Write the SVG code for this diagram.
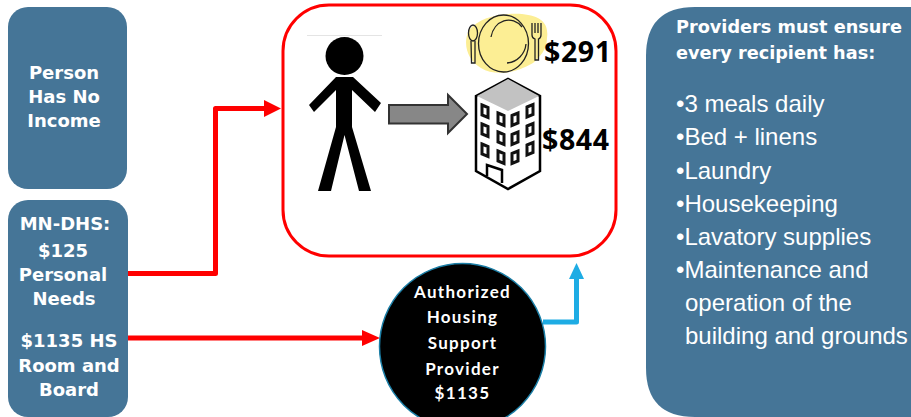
<svg xmlns="http://www.w3.org/2000/svg" width="911" height="417" viewBox="0 0 911 417">
<style>
.box{fill:#457597}
.t{font-family:"DejaVu Sans",Verdana,sans-serif;font-weight:bold;font-size:18px;fill:#fff;text-anchor:middle}
.c{font-family:"Lato","Noto Sans",sans-serif;font-weight:bold;font-size:17px;fill:#fff;text-anchor:middle;letter-spacing:1.300px}
.p{font-family:"Liberation Sans",Arial,sans-serif;font-size:24px;fill:#fff}
.h{font-family:"DejaVu Sans",Verdana,sans-serif;font-weight:bold;font-size:17.700px;fill:#fff}
.m{font-family:"Noto Sans","Open Sans",sans-serif;font-weight:bold;font-size:28.500px;letter-spacing:.6px;fill:#000}
.red{fill:none;stroke:#f00;stroke-width:5;stroke-linejoin:round}
.win{fill:#fff;stroke:#111;stroke-width:3}
.ink{fill:none;stroke:#222;stroke-width:1.300}
</style>
<g id="node-no-income"><rect class="box" x="8" y="7" width="119" height="182" rx="20"/>
<text class="t" x="64" y="79">Person</text><text class="t" x="64" y="103">Has No</text><text class="t" x="64" y="127">Income</text></g>
<g id="node-mn-dhs"><rect class="box" x="8" y="200" width="120" height="217" rx="20"/>
<text class="t" x="65" y="230">MN-DHS:</text><text class="t" x="63" y="257">$125</text><text class="t" x="63" y="281">Personal</text><text class="t" x="64" y="305">Needs</text><text class="t" x="69" y="347">$1135 HS</text><text class="t" x="69" y="372">Room and</text><text class="t" x="69" y="396">Board</text></g>
<g id="connectors">
<path class="red" d="M128 273.500H215.500V108.500H265"/>
<path d="M264 100L281 108.500L264 117Z" fill="#f00"/>
<path class="red" d="M128 338H365"/>
<path d="M362 330L380 338L362 346Z" fill="#f00"/>
<path d="M543 322H576.500V276" fill="none" stroke="#1eace4" stroke-width="5" stroke-linejoin="round"/>
<path d="M569 279L576.500 263L584 279Z" fill="#1eace4"/>
</g>
<g id="node-residence"><rect x="283" y="5" width="333" height="251" rx="46" fill="#fff" stroke="#f00" stroke-width="3"/>
<g id="person"><path d="M307 35.500H382" stroke="#e4e4e4" stroke-width="1"/><circle cx="344.500" cy="56" r="19" fill="#000"/>
<path d="M336 77H353L381 103L375 112L352 90V127L371 191H359L344.500 135L331 191H318L336 127V90L314 112L309 105Z" fill="#000"/></g>
<path id="move-arrow" d="M389 105H448V95L467 114L448 133V123.500H389Z" fill="#878787" stroke="#333" stroke-width="2"/>
<g id="meal"><path d="M469 30C480 17 500 13 522 14C542 16 549 24 547 38C547 49 540 57 533 63C515 74 494 76 481 68C468 61 462 44 469 30Z" fill="#fcee94"/>
<ellipse cx="503.500" cy="43.500" rx="25" ry="28.500" class="ink"/>
<path d="M491 37A18 21 0 0 1 522 27M526 44A21 21 0 0 1 507 63" class="ink"/>
<ellipse cx="473" cy="33" rx="4.500" ry="8" class="ink"/><path d="M471 41L471.500 63H475L475 41" class="ink"/>
<path d="M532 23V35Q532 38 535 39V60H538.500V39Q541 38 541 35V23M535 23V33M538 23V33" class="ink"/></g>
<g id="building"><path d="M476 96L508 79L540 96V171L508 189L476 171Z" fill="#fff" stroke="#000" stroke-width="2.500"/><path d="M477 96L508 79L539 96L508 111Z" fill="#c2c2c2"/>
<path class="win" d="M482 105l6 2.500v10l-6-2.500zM498 113l6 2.500v10l-6-2.500zM512 115.500l6-2.500v10l-6 2.500zM527 107l6-2.500v10l-6 2.500z"/>
<path class="win" d="M482 124l6 2.500v10l-6-2.500zM498 132l6 2.500v10l-6-2.500zM512 134.500l6-2.500v10l-6 2.500zM527 126l6-2.500v10l-6 2.500z"/>
<path class="win" d="M482 144l6 2.500v10l-6-2.500zM498 151l6 2.500v10l-6-2.500zM512 153.500l6-2.500v10l-6 2.500zM527 145l6-2.500v10l-6 2.500z"/>
<path d="M487 176V165L502 170V183" fill="none" stroke="#000" stroke-width="2.500"/></g>
<text class="m" x="544" y="62">$291</text><text class="m" x="542" y="150">$844</text></g>
<g id="node-provider"><circle cx="462.500" cy="346.500" r="83" fill="#000" stroke="#1b7ea6" stroke-width="1.500"/>
<text class="c" x="462.500" y="298">Authorized</text><text class="c" x="462.500" y="323">Housing</text><text class="c" x="462.500" y="349">Support</text><text class="c" x="462.500" y="375">Provider</text><text class="c" x="462.500" y="399">$1135</text></g>
<g id="node-requirements"><path d="M695 7H911V417H695Q646 417 646 368V56Q646 7 695 7Z" fill="#457597"/>
<text class="h" x="676" y="33">Providers must ensure</text><text class="h" x="676" y="59">every recipient has:</text>
<text class="p" x="676" y="112">•3 meals daily</text><text class="p" x="676" y="145">•Bed + linens</text><text class="p" x="676" y="179">•Laundry</text><text class="p" x="676" y="212">•Housekeeping</text><text class="p" x="676" y="245">•Lavatory supplies</text><text class="p" x="676" y="278">•Maintenance and</text><text class="p" x="685" y="311">operation of the</text><text class="p" x="685" y="344">building and grounds</text></g>
</svg>
